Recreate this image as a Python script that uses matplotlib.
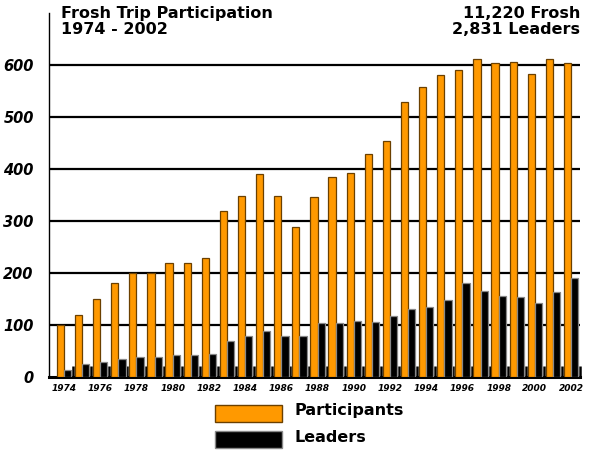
import numpy as np
import matplotlib
matplotlib.use("Agg")
import matplotlib.pyplot as plt
from matplotlib.patches import Rectangle

years = list(range(1974, 2003))
participants = [100, 120, 150, 181, 200, 200, 219, 219, 229, 320, 349, 390, 349, 289,
                346, 385, 393, 428, 454, 528, 557, 581, 591, 612, 603, 605, 583, 612, 603]
leaders = [13, 25, 29, 35, 38, 38, 42, 42, 44, 69, 79, 88, 79, 79,
           104, 104, 108, 105, 118, 130, 134, 149, 180, 165, 155, 153, 143, 163, 190]
ytick_vals = [0, 100, 200, 300, 400, 500, 600]
legend_labels = ["Participants", "Leaders"]

orange = "#FF9900"
plt.rcParams['font.family'] = ['DejaVu Sans']

fig = plt.figure(figsize=(5.89, 4.5), dpi=100)
ax = fig.add_axes([0.0832, 0.1622, 0.9018, 0.8088])

x = np.array(years)
w = 0.4
ax.bar(x - w / 2, participants, width=w, color=orange, edgecolor="#6b4000", linewidth=0.9, zorder=3)
ax.bar(x + w / 2, leaders, width=w, color="black", edgecolor="#888888", linewidth=0.9, zorder=3)

ax.set_xlim(1973.17, 2002.38)
ax.set_ylim(0, 700)

for v in ytick_vals[1:]:
    ax.axhline(v, color="black", lw=1.6, zorder=1)

ax.set_yticks(ytick_vals)
ax.set_yticklabels([str(v) for v in ytick_vals], fontsize=10.5, fontweight="bold", fontstyle="italic")
ax.tick_params(axis="y", length=0, pad=11)

ax.set_xticks(years[::2])
ax.set_xticklabels([str(y) for y in years[::2]], fontsize=6.5, fontweight="bold", fontstyle="italic")
ax.set_xticks(x + 0.5, minor=True)
ax.tick_params(axis="x", which="major", length=0, pad=5)
ax.tick_params(axis="x", which="minor", direction="in", length=8, width=1.8, color="black")

for s in ["top", "right"]:
    ax.spines[s].set_visible(False)
ax.spines["left"].set_linewidth(1.0)
ax.spines["bottom"].set_linewidth(2.2)

fig.text(61 / 589, 1 - 6 / 450, "Frosh Trip Participation\n1974 - 2002", ha="left", va="top",
         fontsize=11.5, fontweight="bold", linespacing=1.12)
fig.text(580 / 589, 1 - 6 / 450, "11,220 Frosh\n2,831 Leaders", ha="right", va="top",
         fontsize=11.5, fontweight="bold", linespacing=1.12)

# legend drawn by hand below the axes
faces = [orange, "black"]
edges = ["#6b4000", "#888888"]
tops = [405, 431]
for lab, fc, ec, top in zip(legend_labels, faces, edges, tops):
    fig.patches.append(Rectangle((215 / 589, 1 - (top + 17) / 450), 67 / 589, 17 / 450,
                                 transform=fig.transFigure, facecolor=fc, edgecolor=ec, lw=1))
    fig.text(295 / 589, 1 - (top + 6) / 450, lab, ha="left", va="center",
             fontsize=11.5, fontweight="bold")

fig.savefig("out.png", dpi=100)
